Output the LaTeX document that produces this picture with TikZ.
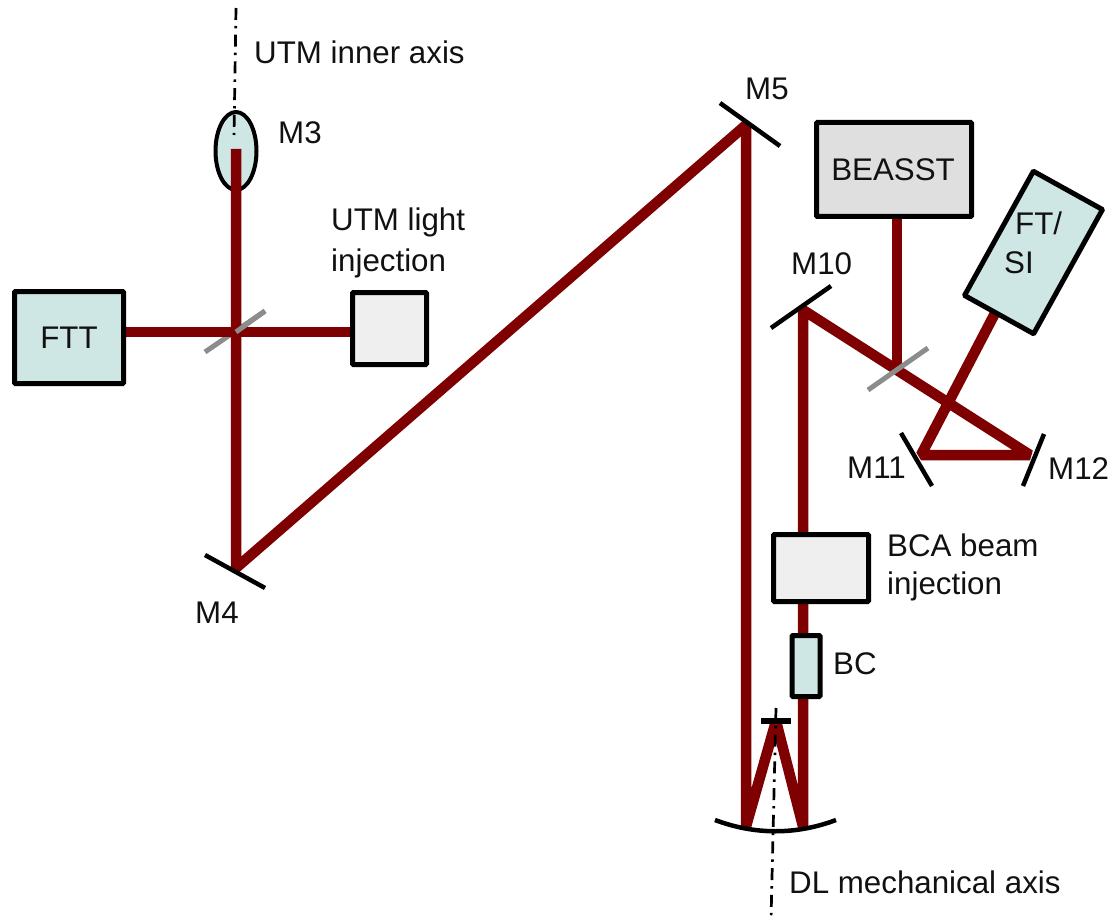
\documentclass[tikz,border=0pt]{standalone}
\usepackage{fontspec}
\setmainfont{Liberation Sans}
\usetikzlibrary{shapes.geometric}
\definecolor{beamcol}{HTML}{7F0000}
\definecolor{teal}{HTML}{CFE7E4}
\definecolor{lightbox}{HTML}{EFEFEF}
\definecolor{midbox}{HTML}{DFDFDF}
\definecolor{txt}{HTML}{111111}
\tikzset{
  boxnode/.style={draw=black,line width=5pt,inner sep=0pt,outer sep=0pt,rounded corners=0.8pt},
  beam/.style={draw=beamcol,line width=10.5pt,line join=bevel},
  mirror/.style={draw=black,line width=4.5pt},
  splitter/.style={draw=black!45,line width=5pt},
  axisline/.style={draw=black,line width=2.7pt,dash pattern=on 12pt off 6pt on 2.4pt off 6.3pt},
  lab/.style={font=\fontsize{31.3}{37}\selectfont,text=txt,inner sep=0pt,align=left}
}
\begin{document}
\begin{tikzpicture}[x=1pt,y=-1pt]
\useasboundingbox (0,0) rectangle (1114,920);
% optical points
\coordinate (m3b) at (236,149);
\coordinate (m4c) at (236,568);
\coordinate (m5c) at (746,125);
\coordinate (dlL) at (746,826.5);
\coordinate (dlT) at (776,721);
\coordinate (dlR) at (803,826.5);
\coordinate (m10c) at (803,310);
\coordinate (m12c) at (1030,455);
\coordinate (m11c) at (921,455);
\coordinate (ftsib) at (998,307.5);
\coordinate (bs1) at (236,332);
\coordinate (bs2) at (897,369);
% mirror ends
\coordinate (m4a) at (205,555);\coordinate (m4b) at (265,588);
\coordinate (m5a) at (720,103);\coordinate (m5b) at (780,146);
\coordinate (m10a) at (771,328);\coordinate (m10b) at (831,286);
\coordinate (m11a) at (901,433);\coordinate (m11b) at (932,486);
\coordinate (m12a) at (1044,434);\coordinate (m12b) at (1023,486);
\coordinate (dlma) at (761,721);\coordinate (dlmb) at (791,721);
\coordinate (sp1a) at (205,352);\coordinate (sp1b) at (265,311);
\coordinate (sp2a) at (868,390);\coordinate (sp2b) at (928,348);
\coordinate (cma) at (715,820);\coordinate (cmb) at (836,820);
% components under the beams
\node[boxnode,line width=4pt,ellipse,fill=teal,minimum width=41pt,minimum height=78pt] (m3) at (236,151) {};
% beams
\draw[splitter] (sp1a) -- (sp1b);
\draw[beam] (m3b) -- (m4c) -- (m5c) -- (dlL) -- (dlT) -- (dlR) -- (m10c) -- (m12c) -- (m11c) -- (ftsib);
\draw[beam] (69,0 |- bs1) -- (389,0 |- bs1);
\draw[beam] (bs2 |- 0,169) -- (bs2);
\draw[splitter] (bs1) -- (sp1b);
\draw[splitter] (sp2a) -- (sp2b);
% components over the beams
\node[boxnode,fill=teal,minimum width=109pt,minimum height=92pt] (ftt) at (69,337.5) {};
\node[boxnode,fill=lightbox,minimum width=74pt,minimum height=72pt] (utmbox) at (389.5,328.5) {};
\node[boxnode,fill=midbox,minimum width=155pt,minimum height=94pt] (beasst) at (894,169.5) {};
\node[boxnode,fill=teal,minimum width=142pt,minimum height=79pt,rotate=61] (ftsi) at (1033.5,252.5) {};
\node[boxnode,fill=lightbox,minimum width=95pt,minimum height=67pt] (bca) at (821,568) {};
\node[boxnode,fill=teal,minimum width=28pt,minimum height=61pt] (bc) at (806,666) {};
% mirrors
\draw[mirror] (m4a) -- (m4b);
\draw[mirror] (m5a) -- (m5b);
\draw[mirror] (m10a) -- (m10b);
\draw[mirror] (m11a) -- (m11b);
\draw[mirror] (m12a) -- (m12b);
\draw[mirror,line width=5.5pt] (dlma) -- (dlmb);
\draw[mirror] (cma) .. controls (755,835) and (796,835) .. (cmb);
% axes
\coordinate (ax1a) at (236,8);\coordinate (ax1b) at (234,135);
\coordinate (ax2a) at (776,708);\coordinate (ax2b) at (771,920);
\draw[axisline] (ax1a) -- (ax1b);
\draw[axisline] (ax2a) -- (ax2b);
% labels
\node[lab,anchor=west] (l1) at (254,52) {UTM inner axis};
\node[lab,anchor=west] (l2) at (278,133) {M3};
\node[lab,anchor=west] (l3) at (331,222) {UTM light};
\node[lab,anchor=west] (l4) at (331,263) {injection};
\node[lab] (l5) at (69,338) {FTT};
\node[lab,anchor=west] (l6) at (195,613) {M4};
\node[lab,anchor=west] (l7) at (745,89) {M5};
\node[lab] (l8) at (893,170) {BEASST};
\node[lab,anchor=west] (l9) at (1015,223) {FT/};
\node[lab,anchor=west] (l10) at (1004,263) {SI};
\node[lab,anchor=west] (l11) at (791,264) {M10};
\node[lab,anchor=west] (l12) at (847,468) {M11};
\node[lab,anchor=west] (l13) at (1048,469) {M12};
\node[lab,anchor=west] (l14) at (887,545) {BCA beam};
\node[lab,anchor=west] (l15) at (887,586) {injection};
\node[lab,anchor=west] (l16) at (833,664) {BC};
\node[lab,anchor=west] (l17) at (789,882) {DL mechanical axis};
\end{tikzpicture}
\end{document}
